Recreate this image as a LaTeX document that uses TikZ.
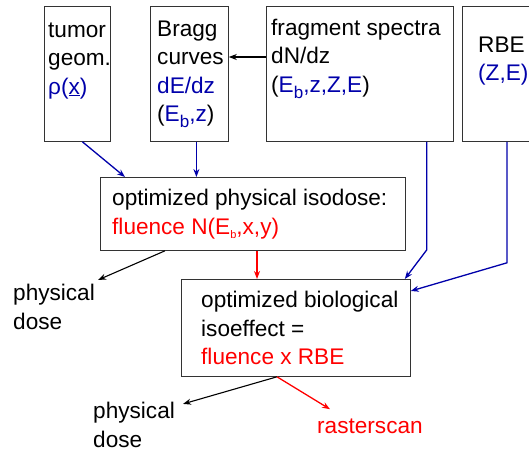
\documentclass[tikz,border=0pt]{standalone}
\usepackage{fontspec}
\setmainfont{Liberation Sans}
\usetikzlibrary{arrows.meta}
\definecolor{planblue}{RGB}{0,0,170}
\definecolor{planred}{RGB}{255,0,0}

\begin{document}
\begin{tikzpicture}[x=1pt, y=-1pt,
    box/.style={draw=black!80, line width=0.8pt, inner sep=0pt, anchor=north west},
    txt/.style={anchor=base west, align=left, inner sep=0pt, font=\fontsize{22.6}{28.5}\selectfont},
    bluearrow/.style={draw=planblue, line width=1.3pt, -{Stealth[length=8pt, width=6pt]}},
    redarrow/.style={draw=planred, line width=1.3pt, -{Stealth[length=8pt, width=6pt]}},
    blackarrow/.style={draw=black, line width=1.1pt, -{Stealth[length=8pt, width=6pt]}}]

    % Page
    \useasboundingbox (0,0) rectangle (529,453);

    \def\subb{\raisebox{-6pt}{\fontsize{17}{17}\selectfont b}}
    \def\subsmall{\raisebox{-4pt}{\fontsize{11}{11}\selectfont b}}

    % Input boxes, top row
    \node[box, minimum width=66, minimum height=135] (tumor) at (44,6) {};
    \node[box, minimum width=78, minimum height=135] (bragg) at (150,6) {};
    \node[box, minimum width=187, minimum height=135] (frag) at (266,6) {};
    \node[box, minimum width=90, minimum height=135] (rbe) at (462,6) {};

    % (text nodes sit on the baseline of their last line)
    \node[txt] (tumortxt) at (48,94) {tumor\\geom.\\\textcolor{planblue}{ρ(\underline{x})}};
    \node[txt] (braggtxt) at (157,121.5) {Bragg\\curves\\\textcolor{planblue}{dE/dz}\\(\textcolor{planblue}{E\subb,z})};
    \node[txt] (fragtxt) at (271,92) {fragment spectra\\dN/dz\\(\textcolor{planblue}{E\subb,z,Z,E})};
    \node[txt] (rbetxt) at (478,80.5) {RBE\\\textcolor{planblue}{(Z,E)}};

    % Optimization boxes
    \node[box, minimum width=305, minimum height=73] (physiso) at (100,177) {};
    \node[txt] (physisotxt) at (112,234) {optimized physical isodose:\\\textcolor{planred}{fluence N(E\subsmall,x,y)}};

    \node[box, minimum width=229, minimum height=97] (bio) at (181,279) {};
    \node[txt] (biotxt) at (201,364.5) {optimized biological\\isoeffect =\\\textcolor{planred}{fluence x RBE}};

    % Outputs
    \node[txt] (dose1) at (13,329) {physical\\dose};
    \node[txt] (dose2) at (93,447) {physical\\dose};
    \node[txt, text=planred] (raster) at (317,433) {rasterscan};

    % Connectors
    \draw[blackarrow] ([yshift=-51]frag.north west) -- ([yshift=-51]bragg.north east);
    \draw[bluearrow] ([xshift=5]tumor.south) -- ([xshift=25]physiso.north west);
    \draw[bluearrow] ([xshift=7]bragg.south) -- ([xshift=7]bragg.south |- physiso.north);
    \draw[bluearrow] ([xshift=-27]frag.south east) -- ++(0,108) -- ([xshift=-6]bio.north east);
    \draw[bluearrow] ([xshift=45]rbe.south west) -- ++(0,121) -- ([yshift=-12]bio.north east);

    \draw[blackarrow] ([xshift=65]physiso.south west) -- ([xshift=3,yshift=4]dose1.north east);
    \draw[redarrow] ([xshift=157]physiso.south west) -- ([xshift=157]physiso.south west |- bio.north);

    \draw[blackarrow] ([xshift=96]bio.south west) -- ([xshift=8,yshift=-2]dose2.north east);
    \draw[redarrow] ([xshift=96]bio.south west) -- ([xshift=13,yshift=9]raster.north west);

\end{tikzpicture}
\end{document}
